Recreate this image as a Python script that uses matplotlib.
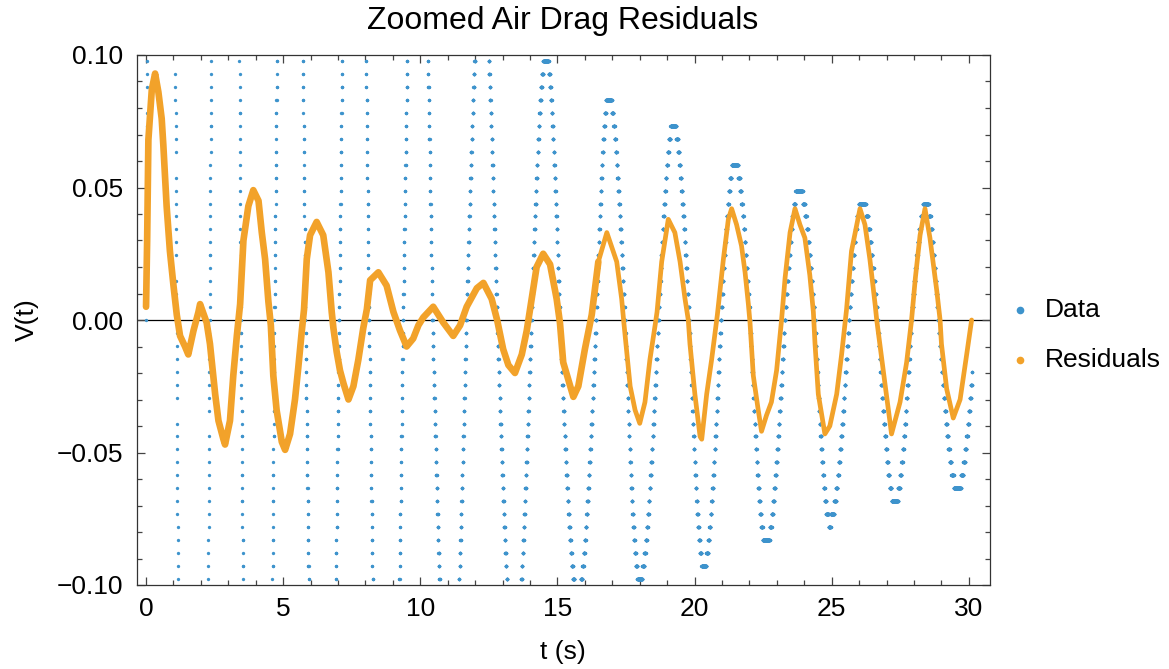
import numpy as np
import matplotlib
matplotlib.use("Agg")
import matplotlib.pyplot as plt
from matplotlib.ticker import MultipleLocator, FuncFormatter
from matplotlib.lines import Line2D

plt.rcParams['font.family'] = ['Liberation Sans', 'DejaVu Sans']

# ---------------- data ----------------
# "Data" series: zero-crossing times and lobe extrema (time, value)
cross_t = [0.00, 1.11, 2.315, 3.46, 4.68, 5.81, 7.04, 8.13, 9.37, 10.44, 11.68,
           12.80, 14.05, 15.09, 16.41, 17.46, 18.68, 19.80, 20.96, 22.02, 23.29,
           24.39, 25.63, 26.67, 27.91, 28.89, 30.26]
ext_t = [0.55, 1.71, 2.89, 4.07, 5.25, 6.43, 7.59, 8.75, 9.90, 11.06, 12.24,
         13.42, 14.58, 15.73, 16.86, 17.99, 19.22, 20.33, 21.46, 22.60, 23.80,
         24.92, 26.10, 27.30, 28.44, 29.58]
ext_v = [0.80, -0.80, 0.65, -0.55, 0.40, -0.33, 0.32, -0.30, 0.22, -0.16, 0.13,
         -0.125, 0.100, -0.104, 0.085, -0.098, 0.074, -0.093, 0.060, -0.085, 0.050,
         -0.076, 0.045, -0.069, 0.044, -0.064]
data_end_t = 30.12
sample_dt = 0.0025
quantum = 0.004883

# "Residuals" series
resid_t = [0.00, 0.04, 0.085, 0.21, 0.33, 0.45, 0.57, 0.63, 0.75, 0.87, 1.00, 1.12,
           1.24, 1.42, 1.54, 1.73, 1.91, 1.97, 2.21, 2.33, 2.52, 2.64, 2.82, 2.88,
           3.06, 3.18, 3.31, 3.43, 3.55, 3.73, 3.91, 4.10, 4.22, 4.34, 4.46, 4.55,
           4.64, 4.76, 4.95, 5.07, 5.25, 5.43, 5.55, 5.68, 5.76, 5.86, 5.98, 6.22,
           6.46, 6.65, 6.77, 6.83, 6.95, 7.07, 7.20, 7.38, 7.56, 7.74, 7.92, 8.05,
           8.17, 8.47, 8.77, 9.02, 9.26, 9.50, 9.74, 9.93, 10.11, 10.47, 10.84, 11.20,
           11.45, 11.69, 12.06, 12.30, 12.60, 12.80, 13.02, 13.21, 13.45, 13.70, 13.88,
           14.00, 14.24, 14.48, 14.73, 14.97, 15.09, 15.21, 15.58, 15.76, 16.00, 16.25,
           16.49, 16.80, 17.16, 17.34, 17.42, 17.65, 17.83, 18.00, 18.19, 18.37, 18.56,
           18.63, 18.80, 19.04, 19.28, 19.47, 19.65, 19.77, 19.83, 20.01, 20.20, 20.26,
           20.44, 20.62, 20.83, 21.05, 21.23, 21.35, 21.53, 21.71, 21.84, 21.96, 22.02,
           22.14, 22.32, 22.44, 22.62, 22.80, 22.99, 23.17, 23.30, 23.48, 23.66, 23.84,
           24.02, 24.20, 24.33, 24.39, 24.51, 24.75, 24.93, 25.18, 25.36, 25.54, 25.72,
           26.03, 26.21, 26.39, 26.58, 26.64, 26.94, 27.18, 27.49, 27.73, 27.91, 28.05,
           28.22, 28.40, 28.58, 28.83, 28.95, 29.00, 29.19, 29.43, 29.68, 29.92, 30.10]
resid_v = [0.005, 0.030, 0.068, 0.087, 0.093, 0.086, 0.076, 0.066, 0.043, 0.026, 0.013, 0.002,
           -0.006, -0.010, -0.013, -0.004, 0.003, 0.006, -0.001, -0.009, -0.028, -0.038, -0.045, -0.047,
           -0.038, -0.021, -0.006, 0.006, 0.030, 0.043, 0.049, 0.045, 0.033, 0.023, 0.007, -0.002,
           -0.021, -0.034, -0.046, -0.049, -0.043, -0.030, -0.018, -0.004, 0.004, 0.023, 0.032, 0.037,
           0.032, 0.018, 0.003, -0.003, -0.012, -0.019, -0.024, -0.030, -0.025, -0.015, -0.003, 0.004,
           0.015, 0.018, 0.013, 0.003, -0.004, -0.010, -0.007, -0.002, 0.001, 0.005, -0.001, -0.006,
           -0.002, 0.005, 0.012, 0.014, 0.008, 0.000, -0.011, -0.017, -0.020, -0.013, -0.004,
           0.004, 0.020, 0.025, 0.021, 0.008, -0.001, -0.016, -0.029, -0.025, -0.011, 0.002,
           0.022, 0.033, 0.022, 0.008, -0.001, -0.025, -0.034, -0.039, -0.031, -0.015, -0.002,
           0.003, 0.022, 0.038, 0.033, 0.022, 0.008, 0.000, -0.009, -0.028, -0.044, -0.045,
           -0.028, -0.015, 0.002, 0.023, 0.038, 0.042, 0.036, 0.028, 0.018, 0.006, -0.001,
           -0.021, -0.034, -0.042, -0.036, -0.031, -0.019, 0.000, 0.016, 0.033, 0.042, 0.036,
           0.031, 0.017, 0.003, -0.009, -0.028, -0.043, -0.040, -0.028, -0.013, 0.004, 0.026,
           0.042, 0.036, 0.023, 0.006, 0.000, -0.024, -0.043, -0.031, -0.016, 0.000, 0.016,
           0.032, 0.042, 0.031, 0.011, 0.000, -0.009, -0.026, -0.037, -0.030, -0.013, 0.000]

x_ticks = [0, 5, 10, 15, 20, 25, 30]
y_ticks = [-0.10, -0.05, 0.00, 0.05, 0.10]

BLUE = '#3d93cc'
ORANGE = '#f2a22a'

# ------------- build the sampled, quantised data trace -------------
knot_t = []
knot_v = []
for i in range(len(ext_t)):
    knot_t += [cross_t[i], ext_t[i]]
    knot_v += [0.0, ext_v[i]]
knot_t.append(cross_t[-1])
knot_v.append(0.0)
knot_t = np.array(knot_t)
knot_v = np.array(knot_v)

ts = np.arange(0.0, data_end_t, sample_dt)
idx = np.clip(np.searchsorted(knot_t, ts, side='right') - 1, 0, len(knot_t) - 2)
t0, t1 = knot_t[idx], knot_t[idx + 1]
v0, v1 = knot_v[idx], knot_v[idx + 1]
frac = (ts - t0) / (t1 - t0)
vs = np.where(v0 == 0.0, v1 * np.sin(np.pi / 2 * frac), v0 * np.cos(np.pi / 2 * frac))
vq = np.round(vs / quantum) * quantum
vis = np.abs(vq) <= 0.1001

# ---------------- figure ----------------
W, H = 1169, 669
fig = plt.figure(figsize=(W / 100, H / 100), dpi=100)
L, R, T, B = 137, 990, 55, 585
ax = fig.add_axes([L / W, 1 - B / H, (R - L) / W, (B - T) / H])

ax.axhline(0, color='black', lw=0.9, zorder=1)
ax.plot(ts[vis], vq[vis], 'o', ms=2.4, color=BLUE, mec='none', zorder=2)

rt = np.array(resid_t)
rv = np.array(resid_v)
split = 94
ax.plot(rt[:split + 1], rv[:split + 1], color=ORANGE, lw=4.8,
        solid_joinstyle='round', solid_capstyle='round', zorder=3)
ax.plot(rt[split:], rv[split:], color=ORANGE, lw=3.4,
        solid_joinstyle='round', solid_capstyle='round', zorder=3)

ax.set_xlim(-0.33, 30.77)
ax.set_ylim(-0.1, 0.1)

ax.set_xticks(x_ticks)
ax.set_yticks(y_ticks)
ax.xaxis.set_minor_locator(MultipleLocator(1))
ax.yaxis.set_minor_locator(MultipleLocator(0.01))


def yfmt(v, pos):
    s = '%.2f' % v
    if s == '-0.00':
        s = '0.00'
    return s.replace('-', '\u2212')


ax.yaxis.set_major_formatter(FuncFormatter(yfmt))
tick_col = '#444444'
ax.tick_params(which='both', direction='in', top=True, right=True, color=tick_col,
               labelsize=19, width=0.9)
ax.tick_params(which='major', length=6)
ax.tick_params(which='minor', length=3.5)
ax.tick_params(axis='x', pad=9)
ax.tick_params(axis='y', pad=10)
for sp in ax.spines.values():
    sp.set_color('#333333')
    sp.set_linewidth(0.9)

fig.text(563 / W, 1 - 21 / H, 'Zoomed Air Drag Residuals', ha='center', va='center', fontsize=23)
fig.text(563 / W, 1 - 652 / H, 't (s)', ha='center', va='center', fontsize=19)
fig.text(27 / W, 1 - 320 / H, 'V(t)', ha='center', va='center', rotation=90, fontsize=19)

# legend
for yy, col, lab in [(310, BLUE, 'Data'), (360, ORANGE, 'Residuals')]:
    fig.add_artist(Line2D([1020 / W], [1 - yy / H], marker='o', ms=5.5, color=col,
                          mec='none', linestyle='none', transform=fig.transFigure))
    fig.text(1045 / W, 1 - yy / H, lab, ha='left', va='center', fontsize=19)

fig.savefig('out.png', dpi=100)
